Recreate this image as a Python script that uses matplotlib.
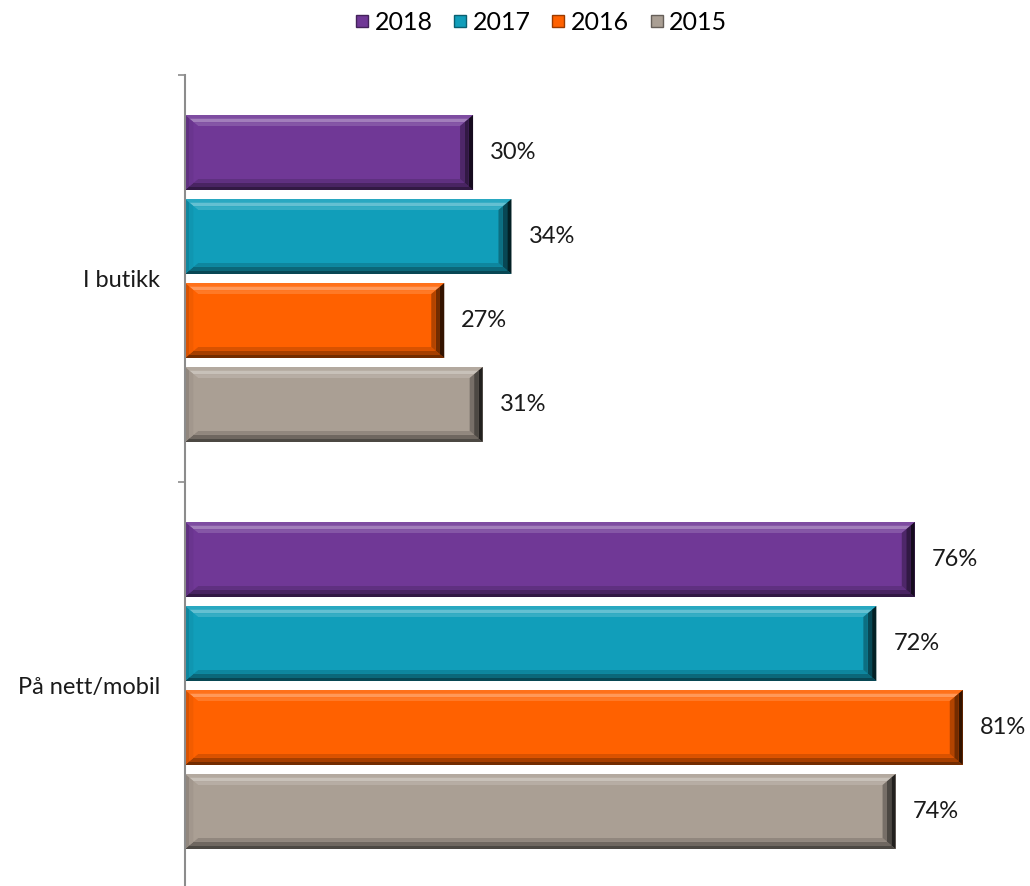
import numpy as np
import matplotlib.pyplot as plt
from matplotlib.patches import Polygon, Rectangle
from matplotlib.colors import to_rgb
from matplotlib.lines import Line2D

plt.rcParams['font.family'] = ['Lato', 'DejaVu Sans']

categories = ['I butikk', 'På nett/mobil']
years = ['2018', '2017', '2016', '2015']
colors = ['#703896', '#119EBA', '#FF6100', '#AA9F94']
v2018 = [30, 76]
v2017 = [34, 72]
v2016 = [27, 81]
v2015 = [31, 74]
series = [v2018, v2017, v2016, v2015]

W, H = 1030, 886
fig = plt.figure(figsize=(W / 100, H / 100), dpi=100)
# axes box in pixels: left 185, right 1030, top 75, bottom 889
ax = fig.add_axes([185 / W, (H - 889) / H, (W - 185) / W, (889 - 75) / H])
xmax = 88.0
ax.set_xlim(0, xmax)
ax.set_ylim(1.5, -0.5)

px_x = (W - 185) / xmax      # pixels per x unit
px_y = (889 - 75) / 2.0      # pixels per y unit
bx = 13 / px_x
by = 11 / px_y


def shade(c, f):
    c = np.array(to_rgb(c))
    if f >= 0:
        return tuple(c + (1 - c) * f)
    return tuple(c * (1 + f))


def band(w, y0, y1, t0, t1):
    # ring between inset t0 and t1 (fractions of the bevel width), split in 4 sides
    ax0, ay0 = bx * t0, by * t0
    ax1, ay1 = bx * t1, by * t1
    top = [(ax0, y0 + ay0), (w - ax0, y0 + ay0), (w - ax1, y0 + ay1), (ax1, y0 + ay1)]
    bot = [(ax0, y1 - ay0), (w - ax0, y1 - ay0), (w - ax1, y1 - ay1), (ax1, y1 - ay1)]
    left = [(ax0, y0 + ay0), (ax1, y0 + ay1), (ax1, y1 - ay1), (ax0, y1 - ay0)]
    right = [(w - ax0, y0 + ay0), (w - ax1, y0 + ay1), (w - ax1, y1 - ay1), (w - ax0, y1 - ay0)]
    return top, bot, left, right


# shade factors per band (outer -> inner) for top, bottom, left, right
top_f = [0.1, 0.35, 0.15]
bot_f = [-0.55, -0.35, -0.15]
left_f = [-0.15, -0.05, 0.0]
right_f = [-0.8, -0.55, -0.3]


def bevel_bar(y0, h, w, color):
    y1 = y0 + h
    ax.add_patch(Rectangle((0, y0), w, h, facecolor=color, edgecolor='none'))
    edges = [0, 0.33, 0.66, 1.0]
    for k in range(3):
        top, bot, left, right = band(w, y0, y1, edges[k], edges[k + 1])
        for poly, f in ((top, top_f[k]), (bot, bot_f[k]), (left, left_f[k]), (right, right_f[k])):
            ax.add_patch(Polygon(poly, facecolor=shade(color, f), edgecolor='none'))


step = 84 / px_y
bh = 75 / px_y
for ci in range(len(categories)):
    for si, vals in enumerate(series):
        yc = ci + (si - 1.5) * step
        bevel_bar(yc - bh / 2, bh, vals[ci], colors[si])
        ax.annotate(f'{vals[ci]}%', (vals[ci], yc), xytext=(17, 0),
                    textcoords='offset pixels', va='center', ha='left',
                    fontsize=17, color='#1a1a1a', annotation_clip=False)

for s in ['top', 'right', 'bottom']:
    ax.spines[s].set_visible(False)
ax.spines['left'].set_color('#8c8c8c')
ax.spines['left'].set_linewidth(1.5)
ax.set_xticks([])
ax.set_yticks(range(len(categories)))
ax.set_yticklabels(categories, fontsize=17, color='#1a1a1a')
ax.tick_params(axis='y', which='major', length=0, pad=18)
ax.set_yticks([-0.5, 0.5, 1.5], minor=True)
ax.tick_params(axis='y', which='minor', length=5, width=1.2, color='#8c8c8c')

handles = [Line2D([], [], marker='s', linestyle='none', markersize=9,
                  markerfacecolor=c, markeredgecolor=shade(c, -0.4), markeredgewidth=1)
           for c in colors]
fig.legend(handles, years, loc='center', bbox_to_anchor=(541 / W, 1 - 22 / H),
           ncol=4, frameon=False, fontsize=18, handlelength=0.6,
           handletextpad=0.2, columnspacing=0.8)

fig.savefig('out.png', dpi=100)
